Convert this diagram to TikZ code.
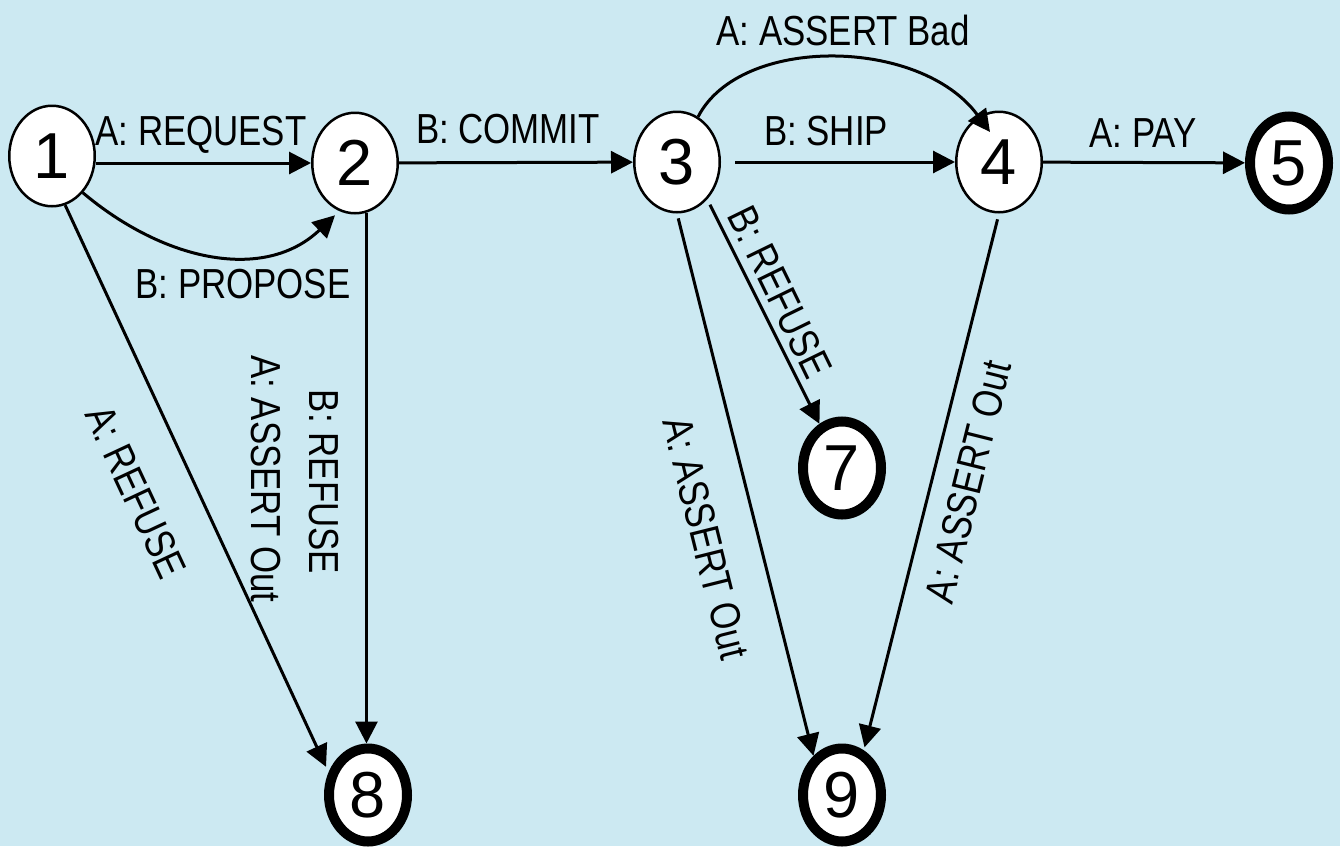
\documentclass[tikz,border=0pt]{standalone}
\usepackage{fontspec}
\setmainfont{Liberation Sans}
\newfontfamily\labfont[FakeStretch=0.83]{Liberation Sans}
\usetikzlibrary{shapes.geometric,arrows.meta}
\definecolor{bgblue}{RGB}{204,233,242}
\begin{document}
\begin{tikzpicture}[x=1pt,y=-1pt,
  state/.style={ellipse,draw,line width=2.5pt,fill=white,minimum width=85.5pt,minimum height=100.5pt,inner sep=0pt,font=\fontsize{65}{65}\selectfont},
  final/.style={state,line width=10pt,minimum width=78pt,minimum height=93pt},
  trans/.style={line width=3pt,-{Triangle[length=22pt,width=22pt]}},
  lab/.style={font=\labfont\fontsize{42}{42}\selectfont,inner sep=0pt}
]
\useasboundingbox (0,0) rectangle (1340,846);
\fill[bgblue] (0,0) rectangle (1340,846);

% states
\node[state] (n1) at (52,156) {1};
\node[state] (n2) at (355,163) {2};
\node[state] (n3) at (677,162) {3};
\node[state] (n4) at (999,162) {4};
\node[final] (n5) at (1289,163) {5};
\node[final] (n7) at (842,468) {7};
\node[final] (n8) at (368,795) {8};
\node[final] (n9) at (842,795) {9};

% transitions
\draw[trans] (n1.east |- n2.west) -- (n2.west);
\draw[trans, shorten >=6pt] (n1.-50) .. controls (165,262) and (265,282) .. (n2.-108);
\draw[trans] (n2) -- (n3);
\draw[trans, shorten <=14pt] (n3) -- (n4);
\draw[trans] (n3.65) .. controls (740,35) and (920,37) .. ([shift={(-9,-30)}]n4.center);
\draw[trans] (n4) -- (n5);
\draw[trans, shorten >=6pt] (n1.-75) -- (n8.150);
\draw[trans] (n2.-77) -- (n2.-77 |- n8.north);
\draw[trans, shorten <=6pt] (n3.-51) -- (n7.117);
\draw[trans, shorten <=5pt] (n3.south) -- (n9.126);
\draw[trans, shorten <=6pt, shorten >=3pt] (n4.south) -- (n9.64);

% labels
\node[lab, anchor=base] (lreq) at (201,145) {A: REQUEST};
\node[lab, anchor=base] (lprop) at (243,298) {B: PROPOSE};
\node[lab, anchor=base] (lcom) at (508,143) {B: COMMIT};
\node[lab, anchor=base] (lship) at (826,145) {B: SHIP};
\node[lab, anchor=base] (lpay) at (1143,147) {A: PAY};
\node[lab, anchor=base] (lbad) at (843,45) {A: ASSERT Bad};
\node[lab, rotate=-65] (lref1) at (136,492) {A: REFUSE};
\node[lab, rotate=-90] (lout2) at (266,479) {A: ASSERT Out};
\node[lab, rotate=-90] (lref2) at (324,482) {B: REFUSE};
\node[lab, rotate=-64] (lref3) at (780,292) {B: REFUSE};
\node[lab, rotate=-76] (lout3) at (706,538) {A: ASSERT Out};
\node[lab, rotate=76] (lout4) at (968,482) {A: ASSERT Out};
\end{tikzpicture}
\end{document}
